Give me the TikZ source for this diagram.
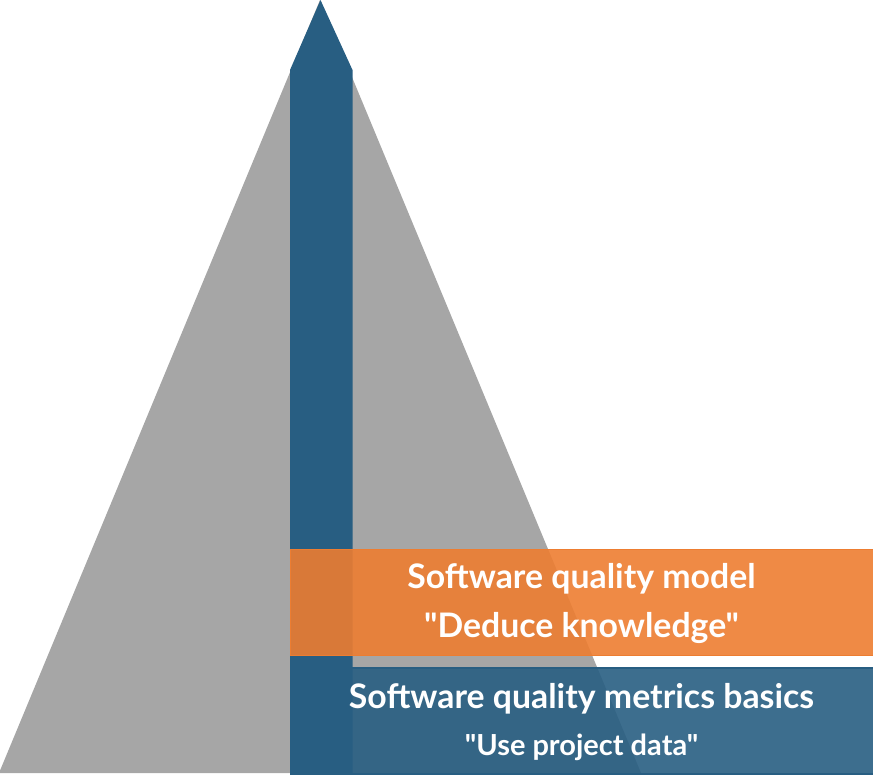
\documentclass[tikz,border=0pt]{standalone}
\usepackage{fontspec}
\setmainfont{Lato}[Ligatures=TeXOff]
\begin{document}
\begin{tikzpicture}[x=1pt,y=-1pt,
  boxtxt/.style={text=white,font=\bfseries,anchor=base,inner sep=0pt}]
\definecolor{tri}{HTML}{A6A6A6}
\definecolor{arr}{HTML}{285E82}
\definecolor{orng}{HTML}{ED7D31}
\useasboundingbox (0,0) rectangle (873,779);
% triangle
\fill[tri] (320,0) -- (641,773) -- (-1,773) -- cycle;
% lower blue box
\node (base) [draw=arr,fill=arr,fill opacity=0.9,line width=1.5pt,minimum width=583pt,minimum height=106pt,inner sep=0pt,anchor=north west] at (289.75,667) {};
% arrow
\fill[arr] (290,773) -- (290,70) -- (320.5,0) -- (352.5,70) -- (352.5,773) -- cycle;
% orange box
\node (model) [draw=orng,fill=orng,fill opacity=0.9,line width=1.5pt,minimum width=583pt,minimum height=106pt,inner sep=0pt,anchor=north west] at (289.75,548.75) {};
% texts
\node[boxtxt,font=\bfseries\fontsize{33.8}{40}\selectfont] (t1) at (581.5,588) {Software quality model};
\node[boxtxt,font=\bfseries\fontsize{33.8}{40}\selectfont] (t2) at (581.5,637) {"Deduce knowledge"};
\node[boxtxt,font=\bfseries\fontsize{33.8}{40}\selectfont] (t3) at (581.5,708) {Software quality metrics basics};
\node[boxtxt,font=\bfseries\fontsize{29}{34}\selectfont] (t4) at (581.5,755) {"Use project data"};
\end{tikzpicture}
\end{document}
